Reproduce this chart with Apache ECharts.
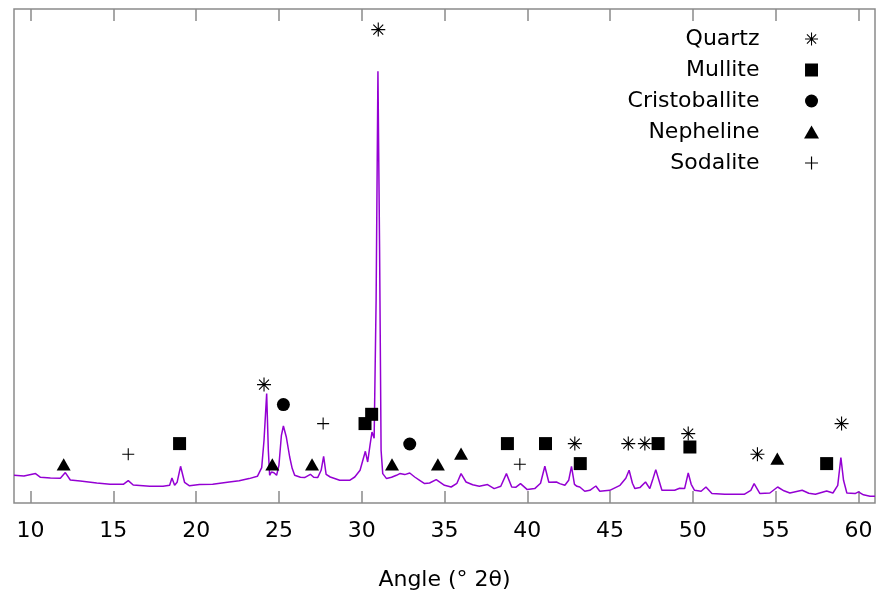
<!DOCTYPE html>
<html>
<head>
<meta charset="utf-8">
<title>XRD pattern</title>
<script src="https://cdn.jsdelivr.net/npm/echarts@6/dist/echarts.min.js"></script>
<style>
  html, body { margin: 0; padding: 0; background: #fff; }
  #chart { width: 879px; height: 597px; }
</style>
</head>
<body>
<div id="chart"></div>
<script>
// diffractogram (angle in degrees 2-theta, intensity in arbitrary units)
var angles = [9.0, 9.6, 10.3, 10.6, 11.2, 11.8, 12.1, 12.4, 13.0, 14.0, 14.8, 15.6, 15.9, 16.2, 17.2, 18.0,
  18.4, 18.54, 18.7, 18.85, 19.06, 19.3, 19.6, 20.2, 21.0, 22.0, 22.6, 23.2, 23.7, 23.96, 24.1, 24.26,
  24.36, 24.44, 24.55, 24.7, 24.86, 25.0, 25.15, 25.27, 25.45, 25.65, 25.8, 25.95, 26.3, 26.55, 26.9,
  27.1, 27.34, 27.55, 27.7, 27.85, 28.1, 28.67, 29.27, 29.58, 29.9, 30.22, 30.36, 30.5, 30.62, 30.75,
  30.87, 30.98, 31.08, 31.17, 31.27, 31.5, 31.8, 32.1, 32.3, 32.6, 32.9, 33.2, 33.5, 33.8, 34.1, 34.5,
  35.0, 35.4, 35.75, 36.0, 36.3, 36.7, 37.1, 37.6, 38.0, 38.4, 38.74, 39.06, 39.3, 39.59, 40.0, 40.45,
  40.8, 41.06, 41.3, 41.76, 41.96, 42.27, 42.5, 42.67, 42.85, 43.0, 43.17, 43.47, 43.78, 44.14, 44.38,
  44.98, 45.6, 45.95, 46.15, 46.35, 46.5, 46.8, 47.14, 47.4, 47.6, 47.76, 47.95, 48.13, 48.9, 49.2,
  49.5, 49.72, 49.9, 50.1, 50.5, 50.79, 51.15, 51.93, 52.6, 53.1, 53.5, 53.7, 54.05, 54.65, 55.12,
  55.5, 55.86, 56.6, 57.0, 57.4, 58.08, 58.46, 58.75, 58.94, 59.1, 59.3, 59.8, 60.0, 60.3, 60.7, 61.0];
var counts = [27.7, 27, 29.4, 25.7, 25, 24.7, 30.4, 23, 22, 20, 18.7, 18.7, 22.4, 18, 16.7, 16.7,
  17.7, 25, 17.7, 20.7, 36.7, 20.7, 17.2, 18.4, 18.7, 21, 22.2, 24.4, 26.7, 35.4, 62.7, 109.4,
  52.7, 27.7, 31, 30.2, 27.7, 37.7, 67.7, 77, 65.7, 46, 34.7, 27.7, 25.7, 25.4, 28.7,
  25.7, 25.4, 32.7, 46.7, 28.7, 26, 22.7, 22.7, 26, 32.7, 51.7, 41, 57.7, 71, 64.7,
  202.7, 431.7, 252.7, 52.7, 29.4, 24.4, 25.7, 27.7, 29.4, 28.4, 30, 26, 22.7, 19.4, 20, 23.4,
  17.7, 16, 19.7, 29.4, 21, 18.2, 16.7, 18.4, 14.4, 16.7, 29.4, 16, 15.7, 19.4, 13.4, 14.4,
  19.7, 36.7, 20.7, 21, 19.4, 17.7, 22.7, 36.7, 18.7, 16.7, 16, 11.7, 12.7, 17, 11.7,
  12.7, 17.7, 24.7, 32.7, 19.7, 14.4, 15.4, 21, 14.4, 24.7, 33.4, 22.7, 12.7, 12.7, 14.7,
  14.4, 30, 18.7, 12.7, 11.7, 16, 9.4, 8.7, 8.7, 8.7, 12.7, 19.4, 9.4, 10, 16,
  12.2, 10, 12.7, 9.7, 8.7, 12, 10, 17.7, 45.4, 22.7, 10, 9.4, 11.2, 8.2, 6.7, 6.7];

// phase markers [angle, height]
var quartzMarks = [[24.1, 118.4], [31.0, 473.4], [42.87, 59.4], [46.1, 59.4], [47.1, 59.4],
  [49.72, 69.4], [53.9, 48.7], [58.98, 79.4]];
var mulliteMarks = [[19.0, 59.4], [30.2, 79.4], [30.6, 88.7], [38.8, 59.4], [41.1, 59.4],
  [43.2, 39.4], [47.9, 59.4], [49.82, 56], [58.08, 39.4]];
var cristobaliteMarks = [[25.27, 98.4], [32.9, 59]];
var nephelineMarks = [[12.0, 38.7], [24.6, 38.7], [27.0, 38.7], [31.83, 38.7], [34.6, 38.7],
  [36.0, 49.4], [55.1, 44.4]];
var sodaliteMarks = [[15.9, 48.7], [27.67, 79.4], [39.55, 38.7]];

var xTicks = [10, 15, 20, 25, 30, 35, 40, 45, 50, 55, 60];

var FONT = 'DejaVu Sans';
var GRAY = '#8a8a8a';

var asterisk = 'path://M0 46L100 46L100 54L0 54Z' +
  'M46 0L54 0L54 100L46 100Z' +
  'M17.5 11.8L88.2 82.5L82.5 88.2L11.8 17.5Z' +
  'M88.2 17.5L17.5 88.2L11.8 82.5L82.5 11.8Z';
var square = 'path://M0 0L100 0L100 100L0 100Z';
var triangle = 'path://M50 0L100 87L0 87Z';
var plus = 'path://M45.5 0L54.5 0L54.5 100L45.5 100ZM0 45.5L100 45.5L100 54.5L0 54.5Z';

var pattern = [];
for (var i = 0; i < angles.length; i++) pattern.push([angles[i], counts[i]]);

function marks(name, data, symbol, size) {
  return {
    name: name,
    type: 'scatter',
    data: data,
    symbol: symbol,
    symbolSize: size,
    symbolKeepAspect: true,
    itemStyle: { color: '#000', opacity: 1 },
    z: 5,
    silent: true
  };
}

var myChart = echarts.init(document.getElementById('chart'));
var option = {
  animation: false,
  backgroundColor: '#fff',
  grid: {
    left: 14,
    right: 4,
    top: 9,
    bottom: 94,
    show: true,
    borderColor: GRAY,
    borderWidth: 1.5,
    backgroundColor: 'transparent'
  },
  legend: {
    orient: 'vertical',
    align: 'right',
    right: 55,
    top: 22,
    itemWidth: 94,
    itemHeight: 13,
    itemGap: 7,
    symbolKeepAspect: true,
    selectedMode: false,
    itemStyle: { opacity: 1 },
    textStyle: { fontFamily: FONT, fontSize: 22, color: '#000', lineHeight: 24 },
    data: ['Quartz', 'Mullite', 'Cristoballite', 'Nepheline', 'Sodalite']
  },
  xAxis: [
    {
      type: 'value',
      min: 9,
      max: 61,
      position: 'bottom',
      axisLine: { show: false },
      axisTick: { inside: true, length: 12, customValues: xTicks, lineStyle: { color: GRAY, width: 1.5 } },
      axisLabel: { customValues: xTicks, fontFamily: FONT, fontSize: 22, color: '#000', margin: 17 },
      splitLine: { show: false },
      name: 'Angle (° 2θ)',
      nameLocation: 'middle',
      nameGap: 66,
      nameTextStyle: { fontFamily: FONT, fontSize: 22, color: '#000' }
    },
    {
      type: 'value',
      min: 9,
      max: 61,
      position: 'top',
      axisLine: { show: false },
      axisTick: { inside: true, length: 12, customValues: xTicks, lineStyle: { color: GRAY, width: 1.5 } },
      axisLabel: { show: false },
      splitLine: { show: false }
    }
  ],
  yAxis: {
    type: 'value',
    min: 0,
    max: 494,
    axisLine: { show: false },
    axisTick: { show: false },
    axisLabel: { show: false },
    splitLine: { show: false }
  },
  series: [
    {
      name: 'pattern',
      type: 'line',
      data: pattern,
      showSymbol: false,
      silent: true,
      lineStyle: { color: '#9400d3', width: 1.5 },
      z: 2
    },
    marks('Quartz', quartzMarks, asterisk, 14),
    marks('Mullite', mulliteMarks, square, 13),
    marks('Cristoballite', cristobaliteMarks, 'circle', 13),
    marks('Nepheline', nephelineMarks, triangle, 14),
    marks('Sodalite', sodaliteMarks, plus, 12)
  ]
};
myChart.setOption(option);
</script>
</body>
</html>
